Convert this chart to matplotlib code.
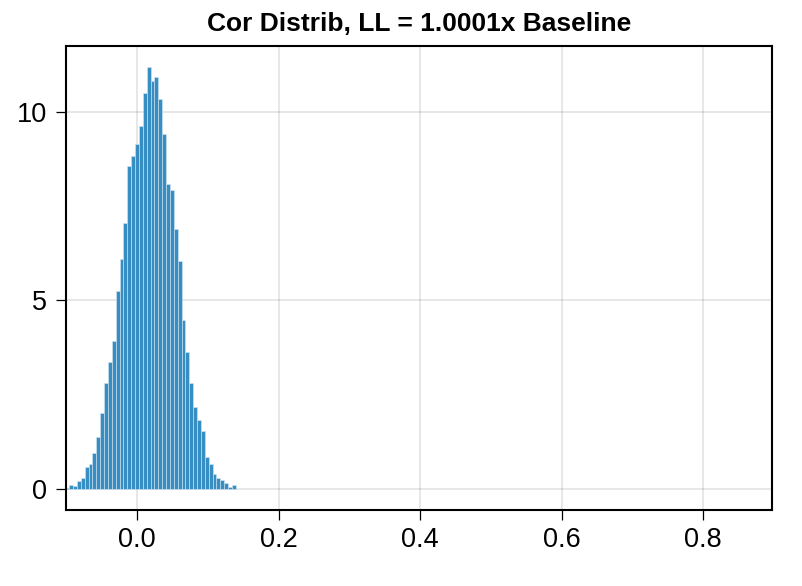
import matplotlib
matplotlib.use("Agg")
import matplotlib.pyplot as plt
import numpy as np

# histogram: density per bin
heights = [0.03, 0.115, 0.08, 0.22, 0.28, 0.59, 0.65, 0.96, 1.37, 2.02,
           2.81, 3.36, 3.93, 5.25, 6.09, 7.04, 8.55, 8.82, 9.13, 9.62,
           10.49, 11.18, 10.81, 10.92, 10.33, 9.42, 8.09, 7.91, 6.90, 6.05,
           4.47, 3.62, 2.81, 2.16, 1.83, 1.54, 0.84, 0.65, 0.40, 0.29,
           0.24, 0.16, 0.04, 0.11]
bin_start = -0.1016
bin_width = 0.005475
xticks = [0.0, 0.2, 0.4, 0.6, 0.8]
xticklabels = ["0.0", "0.2", "0.4", "0.6", "0.8"]
yticks = [0, 5, 10]
title = "Cor Distrib, LL = 1.0001x Baseline"

plt.rcParams['font.family'] = ['Liberation Sans', 'DejaVu Sans']

fig = plt.figure(figsize=(8.02, 5.86), dpi=100)
ax = fig.add_axes([0.0823, 0.1297, 0.9628 - 0.0823, 0.9215 - 0.1297])

lefts = bin_start + bin_width * np.arange(len(heights))
ax.bar(lefts, heights, width=bin_width, align='edge', color='#378ec3',
       edgecolor='#d6e6f2', linewidth=0.4, zorder=2)

ax.set_xlim(-0.1007, 0.8975)
ax.set_ylim(-0.56, 11.74)
ax.set_xticks(xticks)
ax.set_xticklabels(xticklabels)
ax.set_yticks(yticks)

ax.grid(True, color='#000000', alpha=0.12, linewidth=1.1, zorder=0)
ax.set_axisbelow(True)
for s in ax.spines.values():
    s.set_linewidth(1.5)
ax.tick_params(direction='out', length=7, width=0.9, labelsize=19.5)
ax.tick_params(axis='x', pad=5)
ax.tick_params(axis='y', pad=6.5)

ax.set_title(title, fontsize=19, fontweight='bold', pad=11)

fig.savefig("out.png", dpi=100)
